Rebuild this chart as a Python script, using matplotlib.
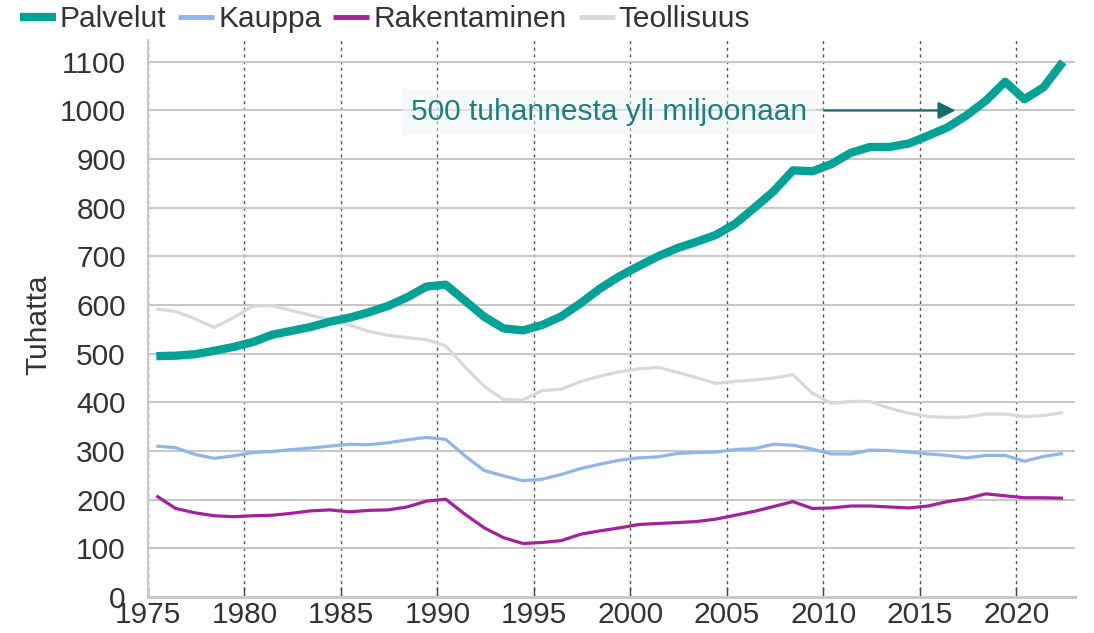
import numpy as np
import matplotlib
matplotlib.use("Agg")
from matplotlib import pyplot as plt
from matplotlib.lines import Line2D

plt.rcParams["font.family"] = ["Liberation Sans", "DejaVu Sans"]

# Employment by sector, thousands
years = list(range(1975, 2023))

palvelut = [495, 496, 499, 506, 514, 524, 539, 547, 555, 566, 574, 585, 598, 616, 638,
            642, 609, 576, 552, 548, 559, 577, 604, 634, 659, 680, 700, 717, 730, 744,
            767, 800, 834, 877, 875, 890, 913, 925, 925, 932, 948, 965, 990, 1020, 1059,
            1023, 1048, 1100]

kauppa = [310, 307, 293, 285, 290, 297, 299, 303, 306, 310, 314, 313, 317, 323, 328,
          324, 290, 260, 249, 239, 242, 252, 264, 273, 281, 286, 288, 295, 297, 298,
          303, 305, 314, 312, 304, 294, 294, 302, 301, 298, 294, 291, 286, 291, 291,
          279, 289, 295]

rakentaminen = [208, 182, 173, 167, 165, 167, 168, 172, 177, 179, 175, 178, 179, 185, 197,
                201, 170, 142, 122, 110, 112, 116, 129, 136, 142, 149, 151, 153, 155, 160,
                168, 176, 186, 196, 182, 183, 187, 187, 185, 183, 187, 196, 202, 212, 208,
                204, 204, 203]

teollisuus = [592, 587, 572, 554, 574, 598, 599, 589, 579, 570, 559, 546, 538, 533, 529,
              516, 473, 433, 406, 405, 424, 427, 443, 454, 463, 469, 472, 462, 451, 439,
              443, 446, 450, 457, 419, 398, 402, 402, 388, 378, 371, 369, 370, 376, 376,
              371, 373, 379]

labels = ["Palvelut", "Kauppa", "Rakentaminen", "Teollisuus"]
colors = ["#00a396", "#8fb5ea", "#a3219a", "#d9d9d9"]
widths = [6.0, 2.3, 2.3, 2.3]
fs = 21.5

# points sit a bit after the year tick, as in the original
x = np.array(years) + 0.43

fig = plt.figure(figsize=(10.94, 6.33), dpi=100)
ax = fig.add_axes([0.1353, 0.0569, 0.8473, 0.88])
ax.set_axisbelow(True)

series = [palvelut, kauppa, rakentaminen, teollisuus]
for i in [3, 2, 1, 0]:
    ax.plot(x, series[i], color=colors[i], lw=widths[i], solid_joinstyle="round",
            solid_capstyle="butt", zorder=3 + (3 - i))

ax.set_xlim(1975, 2023.05)
ax.set_ylim(0, 1145)
ax.set_xticks(range(1975, 2021, 5))
ax.set_yticks(range(0, 1101, 100))

ax.grid(axis="y", color="#c8c8c8", lw=1.5, ls="-")
ax.grid(axis="x", color="#555555", lw=1.0, ls=(0, (2.2, 2.6)))

for s in ["top", "right"]:
    ax.spines[s].set_visible(False)
ax.spines["left"].set_color("#c8c8c8")
ax.spines["left"].set_linewidth(1.5)
ax.spines["bottom"].set_color("#c8c8c8")
ax.spines["bottom"].set_linewidth(2.2)

ax.tick_params(axis="x", direction="in", length=7, width=1, color="#444444",
               labelsize=fs, labelcolor="#333333", pad=3)
ax.tick_params(axis="y", length=0, labelsize=fs, labelcolor="#333333", pad=16)

fig.text(38 / 1094, 1 - 325 / 633, "Tuhatta", rotation=90, ha="center", va="center",
         fontsize=fs, color="#333333")

ax.text(1998.88, 997, "500 tuhannesta yli miljoonaan", ha="center", va="center",
        fontsize=fs, color="#1c7f7d", zorder=2,
        bbox=dict(boxstyle="square,pad=0.3", facecolor="#eef5f4", edgecolor="none", alpha=0.5))
ax.annotate("", xy=(2017.0, 1000), xytext=(2009.9, 1000),
            arrowprops=dict(arrowstyle="-|>", color="#136b6b", lw=1.6, mutation_scale=26),
            zorder=8)

handles = [Line2D([], [], color=colors[i], lw=6.0 if i == 0 else 3.5, solid_capstyle="butt")
           for i in range(4)]
fig.legend(handles, labels, loc="upper left", bbox_to_anchor=(0.018, 0.992), ncol=4,
           frameon=False, fontsize=fs, handlelength=1.2, handletextpad=0.14,
           columnspacing=0.4, borderaxespad=0, borderpad=0, labelcolor="#333333")

fig.savefig("out.png", dpi=100)
